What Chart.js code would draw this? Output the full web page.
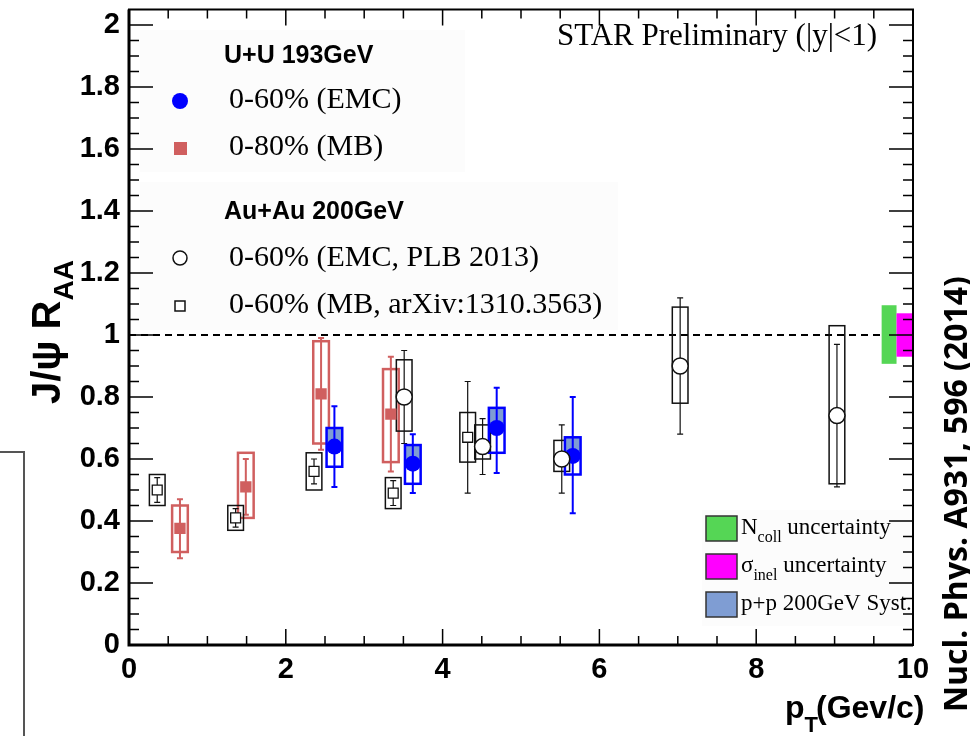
<!DOCTYPE html>
<html>
<head>
<meta charset="utf-8">
<script src="https://cdn.jsdelivr.net/npm/chart.js@4.4.1/dist/chart.umd.min.js"></script>
<style>
  body { margin: 0; background: #fff; }
  #wrap { width: 970px; height: 736px; position: relative; }
</style>
</head>
<body>
<div id="wrap"><canvas id="raaChart"></canvas></div>
<script>
// U+U 193 GeV, 0-60% EMC trigger
const uuEmcPt = [2.62, 3.62, 4.69, 5.66];
const uuEmcRaa = [0.64, 0.585, 0.70, 0.61];
const uuEmcStatLo = [0.51, 0.49, 0.555, 0.425];
const uuEmcStatHi = [0.77, 0.68, 0.83, 0.80];
const uuEmcSysLo = [0.575, 0.52, 0.62, 0.55];
const uuEmcSysHi = [0.70, 0.645, 0.765, 0.67];

// U+U 193 GeV, 0-80% MB
const uuMbPt = [0.65, 1.49, 2.45, 3.34];
const uuMbRaa = [0.376, 0.51, 0.81, 0.745];
const uuMbStatLo = [0.28, 0.42, 0.63, 0.56];
const uuMbStatHi = [0.47, 0.60, 0.99, 0.93];
const uuMbSysLo = [0.30, 0.41, 0.65, 0.59];
const uuMbSysHi = [0.45, 0.62, 0.98, 0.89];

// Au+Au 200 GeV, 0-60% EMC (PLB 2013)
const auEmcPt = [3.51, 4.51, 5.52, 7.03, 9.03];
const auEmcRaa = [0.80, 0.64, 0.60, 0.90, 0.74];
const auEmcStatLo = [0.65, 0.55, 0.49, 0.68, 0.51];
const auEmcStatHi = [0.95, 0.73, 0.71, 1.12, 0.97];
const auEmcSysLo = [0.69, 0.60, 0.56, 0.78, 0.52];
const auEmcSysHi = [0.92, 0.71, 0.66, 1.09, 1.03];

// Au+Au 200 GeV, 0-60% MB (arXiv:1310.3563)
const auMbPt = [0.36, 1.36, 2.36, 3.37, 4.32];
const auMbRaa = [0.50, 0.41, 0.56, 0.49, 0.67];
const auMbStatLo = [0.46, 0.38, 0.52, 0.45, 0.49];
const auMbStatHi = [0.54, 0.44, 0.60, 0.53, 0.85];
const auMbSysLo = [0.45, 0.37, 0.50, 0.44, 0.59];
const auMbSysHi = [0.55, 0.45, 0.62, 0.54, 0.75];

// global uncertainties drawn at R_AA = 1
const ncollBand = [0.907, 1.096];
const inelBand = [0.93, 1.07];

const xTicks = [0, 2, 4, 6, 8, 10];
const yTicks = [0, 0.2, 0.4, 0.6, 0.8, 1, 1.2, 1.4, 1.6, 1.8, 2];

const RED = '#d05f5f';
const BLUE = '#0000ff';
const PPFILL = '#7f9dd3';
const sans = '"Liberation Sans", Arial, sans-serif';
const serif = '"Liberation Serif", "Times New Roman", serif';

const toPts = (xs, ys) => xs.map((x, i) => ({ x: x, y: ys[i] }));

const series = [
  { pt: uuMbPt, lo: uuMbStatLo, hi: uuMbStatHi, sLo: uuMbSysLo, sHi: uuMbSysHi, raa: uuMbRaa, color: RED, lw: 2.5, elw: 2 },
  { pt: auMbPt, lo: auMbStatLo, hi: auMbStatHi, sLo: auMbSysLo, sHi: auMbSysHi, raa: auMbRaa, color: '#111', lw: 1.5, elw: 1.2 },
  { pt: auEmcPt, lo: auEmcStatLo, hi: auEmcStatHi, sLo: auEmcSysLo, sHi: auEmcSysHi, raa: auEmcRaa, color: '#111', lw: 1.5, elw: 1.2 },
  { pt: uuEmcPt, lo: uuEmcStatLo, hi: uuEmcStatHi, sLo: uuEmcSysLo, sHi: uuEmcSysHi, raa: uuEmcRaa, color: BLUE, lw: 2.5, elw: 2, ppFill: true }
];

// boxes, error bars and the reference line under the markers
const errorBoxes = {
  id: 'errorBoxes',
  beforeDatasetsDraw(chart) {
    const { ctx, scales: { x, y } } = chart;
    ctx.save();
    // faint legend backgrounds
    ctx.fillStyle = '#fcfcfc';
    ctx.fillRect(140, 30, 325, 142);
    ctx.fillRect(140, 182, 478, 148);
    ctx.fillRect(702, 510, 208, 116);

    // dashed line at 1
    ctx.strokeStyle = '#000';
    ctx.lineWidth = 2;
    ctx.setLineDash([7, 5]);
    ctx.beginPath();
    ctx.moveTo(x.getPixelForValue(0), y.getPixelForValue(1));
    ctx.lineTo(x.getPixelForValue(9.6), y.getPixelForValue(1));
    ctx.stroke();
    ctx.setLineDash([]);

    // global uncertainty bands
    ctx.fillStyle = '#55d655';
    ctx.fillRect(x.getPixelForValue(9.6), y.getPixelForValue(ncollBand[1]),
      x.getPixelForValue(9.79) - x.getPixelForValue(9.6), y.getPixelForValue(ncollBand[0]) - y.getPixelForValue(ncollBand[1]));
    ctx.fillStyle = '#ff00ff';
    ctx.fillRect(x.getPixelForValue(9.79), y.getPixelForValue(inelBand[1]),
      x.getPixelForValue(10) - x.getPixelForValue(9.79), y.getPixelForValue(inelBand[0]) - y.getPixelForValue(inelBand[1]));

    const hw = x.getPixelForValue(0.1) - x.getPixelForValue(0);
    series.forEach(s => {
      s.pt.forEach((p, i) => {
        const px = x.getPixelForValue(p);
        const yTop = y.getPixelForValue(s.sHi[i]);
        const yBot = y.getPixelForValue(s.sLo[i]);
        if (s.ppFill) {
          ctx.fillStyle = PPFILL;
          ctx.fillRect(px - hw, yTop, 2 * hw, y.getPixelForValue(s.raa[i]) - yTop);
        }
        // stat error bar
        ctx.strokeStyle = s.color;
        ctx.lineWidth = s.elw;
        const e1 = y.getPixelForValue(s.hi[i]);
        const e2 = y.getPixelForValue(s.lo[i]);
        ctx.beginPath();
        ctx.moveTo(px, e1); ctx.lineTo(px, e2);
        ctx.moveTo(px - 3, e1); ctx.lineTo(px + 3, e1);
        ctx.moveTo(px - 3, e2); ctx.lineTo(px + 3, e2);
        ctx.stroke();
        // syst box
        ctx.lineWidth = s.lw;
        ctx.strokeRect(px - hw, yTop, 2 * hw, yBot - yTop);
      });
    });
    ctx.restore();
  }
};

// frame, inward ticks, legends and titles
const decorations = {
  id: 'decorations',
  afterDraw(chart) {
    const { ctx, chartArea: a, scales: { x, y } } = chart;
    ctx.save();
    ctx.strokeStyle = '#000';
    ctx.lineWidth = 1.5;
    ctx.beginPath();
    for (let v = 0; v <= 10.001; v += 0.5) {
      const px = x.getPixelForValue(v);
      const len = Math.abs(v % 2) < 0.01 ? 16 : 9;
      ctx.moveTo(px, a.bottom); ctx.lineTo(px, a.bottom - len);
      ctx.moveTo(px, a.top); ctx.lineTo(px, a.top + len);
    }
    for (let v = 0; v <= 2.001; v += 0.05) {
      const py = y.getPixelForValue(v);
      const major = Math.abs(Math.round(v * 100) % 20) < 1;
      const len = major ? 24 : 10;
      ctx.moveTo(a.left, py); ctx.lineTo(a.left + len, py);
      ctx.moveTo(a.right, py); ctx.lineTo(a.right - len, py);
    }
    ctx.stroke();
    ctx.lineWidth = 2;
    ctx.strokeRect(a.left, a.top, a.right - a.left, a.bottom - a.top);
    ctx.lineWidth = 3;
    ctx.beginPath();
    ctx.moveTo(a.left, a.top); ctx.lineTo(a.left, a.bottom); ctx.lineTo(a.right, a.bottom);
    ctx.stroke();

    // stray frame piece at the lower left
    ctx.strokeStyle = '#555';
    ctx.lineWidth = 2;
    ctx.beginPath();
    ctx.moveTo(0, 452); ctx.lineTo(24, 452); ctx.lineTo(24, 736);
    ctx.stroke();

    // top-left legend
    ctx.fillStyle = '#000';
    ctx.textBaseline = 'middle';
    ctx.textAlign = 'left';
    ctx.font = 'bold 25px ' + sans;
    ctx.fillText('U+U 193GeV', 224, 56);
    ctx.fillText('Au+Au 200GeV', 224, 212);
    ctx.font = '30px ' + serif;
    ctx.fillText('0-60% (EMC)', 229, 100);
    ctx.fillText('0-80% (MB)', 229, 147);
    ctx.fillText('0-60% (EMC, PLB 2013)', 229, 258);
    ctx.fillText('0-60% (MB, arXiv:1310.3563)', 229, 305);

    ctx.fillStyle = BLUE;
    ctx.beginPath(); ctx.arc(180, 101, 8, 0, Math.PI * 2); ctx.fill();
    ctx.fillStyle = RED;
    ctx.fillRect(174, 142, 13, 13);
    ctx.strokeStyle = '#111';
    ctx.lineWidth = 1.5;
    ctx.fillStyle = '#fff';
    ctx.beginPath(); ctx.arc(180, 258, 7, 0, Math.PI * 2); ctx.fill(); ctx.stroke();
    ctx.fillRect(175, 301, 10, 10); ctx.strokeRect(175, 301, 10, 10);

    ctx.fillStyle = '#000';
    ctx.font = '31px ' + serif;
    ctx.fillText('STAR Preliminary (|y|<1)', 557, 37);

    // bottom-right uncertainty legend
    const boxes = [['#55d655', 528], ['#ff00ff', 566], [PPFILL, 604]];
    ctx.strokeStyle = '#333';
    ctx.lineWidth = 1.5;
    boxes.forEach(b => {
      ctx.fillStyle = b[0];
      ctx.fillRect(706, b[1] - 12, 31, 25);
      ctx.strokeRect(706, b[1] - 12, 31, 25);
    });
    ctx.fillStyle = '#000';
    ctx.font = '23px ' + serif;
    let tx = 741;
    ctx.fillText('N', tx, 528); tx += ctx.measureText('N').width;
    ctx.font = '16px ' + serif;
    ctx.fillText('coll', tx, 538); tx += ctx.measureText('coll').width;
    ctx.font = '23px ' + serif;
    ctx.fillText(' uncertainty', tx, 528);
    tx = 741;
    ctx.fillText('σ', tx, 566); tx += ctx.measureText('σ').width;
    ctx.font = '16px ' + serif;
    ctx.fillText('inel', tx, 576); tx += ctx.measureText('inel').width;
    ctx.font = '23px ' + serif;
    ctx.fillText(' uncertainty', tx, 566);
    ctx.fillText('p+p 200GeV Syst.', 741, 604);

    // x axis title
    ctx.textBaseline = 'alphabetic';
    ctx.font = 'bold 32px ' + sans;
    tx = 785;
    ctx.fillText('p', tx, 718); tx += ctx.measureText('p').width;
    ctx.font = 'bold 22px ' + sans;
    ctx.fillText('T', tx, 732); tx += ctx.measureText('T').width - 2;
    ctx.font = 'bold 32px ' + sans;
    ctx.fillText('(Gev/c)', tx, 718);

    // y axis title
    ctx.save();
    ctx.translate(60, 404);
    ctx.rotate(-Math.PI / 2);
    ctx.font = 'bold 40px ' + sans;
    let ty = 0;
    ctx.fillText('J/ψ R', ty, 0); ty += ctx.measureText('J/ψ R').width;
    ctx.font = 'bold 28px ' + sans;
    ctx.fillText('AA', ty, 13);
    ctx.restore();

    // reference on the right
    ctx.save();
    ctx.translate(967, 494);
    ctx.rotate(-Math.PI / 2);
    ctx.textAlign = 'center';
    ctx.font = 'bold 32px "Open Sans", ' + sans;
    ctx.fillText('Nucl. Phys. A931, 596 (2014)', 0, 0);
    ctx.restore();

    ctx.restore();
  }
};

new Chart(document.getElementById('raaChart'), {
  type: 'scatter',
  data: {
    datasets: [
      {
        label: 'U+U 0-80% (MB)',
        data: toPts(uuMbPt, uuMbRaa),
        pointStyle: 'rect',
        pointRadius: 8,
        backgroundColor: RED,
        borderColor: RED,
        borderWidth: 0
      },
      {
        label: 'Au+Au 0-60% (MB, arXiv:1310.3563)',
        data: toPts(auMbPt, auMbRaa),
        pointStyle: 'rect',
        pointRadius: 7,
        backgroundColor: '#fff',
        borderColor: '#111',
        borderWidth: 1.3
      },
      {
        label: 'Au+Au 0-60% (EMC, PLB 2013)',
        data: toPts(auEmcPt, auEmcRaa),
        pointStyle: 'circle',
        pointRadius: 8,
        backgroundColor: '#fff',
        borderColor: '#111',
        borderWidth: 1.5
      },
      {
        label: 'U+U 0-60% (EMC)',
        data: toPts(uuEmcPt, uuEmcRaa),
        pointStyle: 'circle',
        pointRadius: 8,
        backgroundColor: BLUE,
        borderColor: BLUE,
        borderWidth: 0
      }
    ]
  },
  options: {
    responsive: true,
    maintainAspectRatio: false,
    animation: false,
    layout: { padding: { top: 7, right: 57, left: 0, bottom: 0 } },
    plugins: {
      legend: { display: false },
      tooltip: { enabled: false }
    },
    scales: {
      x: {
        type: 'linear',
        min: 0,
        max: 10,
        afterFit: scale => {
          scale.height = 91;
          scale.paddingLeft = 0;
          scale.paddingRight = 0;
        },
        afterBuildTicks: scale => { scale.ticks = xTicks.map(v => ({ value: v })); },
        grid: { display: false, drawTicks: false },
        border: { display: false },
        ticks: {
          padding: 8,
          maxRotation: 0,
          color: '#000',
          font: { family: sans, size: 29, weight: 'bold' }
        }
      },
      y: {
        type: 'linear',
        min: 0,
        max: 2.05,
        afterFit: scale => {
          scale.width = 129;
          scale.paddingTop = 0;
          scale.paddingBottom = 0;
        },
        afterBuildTicks: scale => { scale.ticks = yTicks.map(v => ({ value: v })); },
        grid: { display: false, drawTicks: false },
        border: { display: false },
        ticks: {
          padding: 9,
          color: '#000',
          font: { family: sans, size: 29, weight: 'bold' },
          callback: v => String(+v.toFixed(1))
        }
      }
    }
  },
  plugins: [errorBoxes, decorations]
});
</script>
</body>
</html>
